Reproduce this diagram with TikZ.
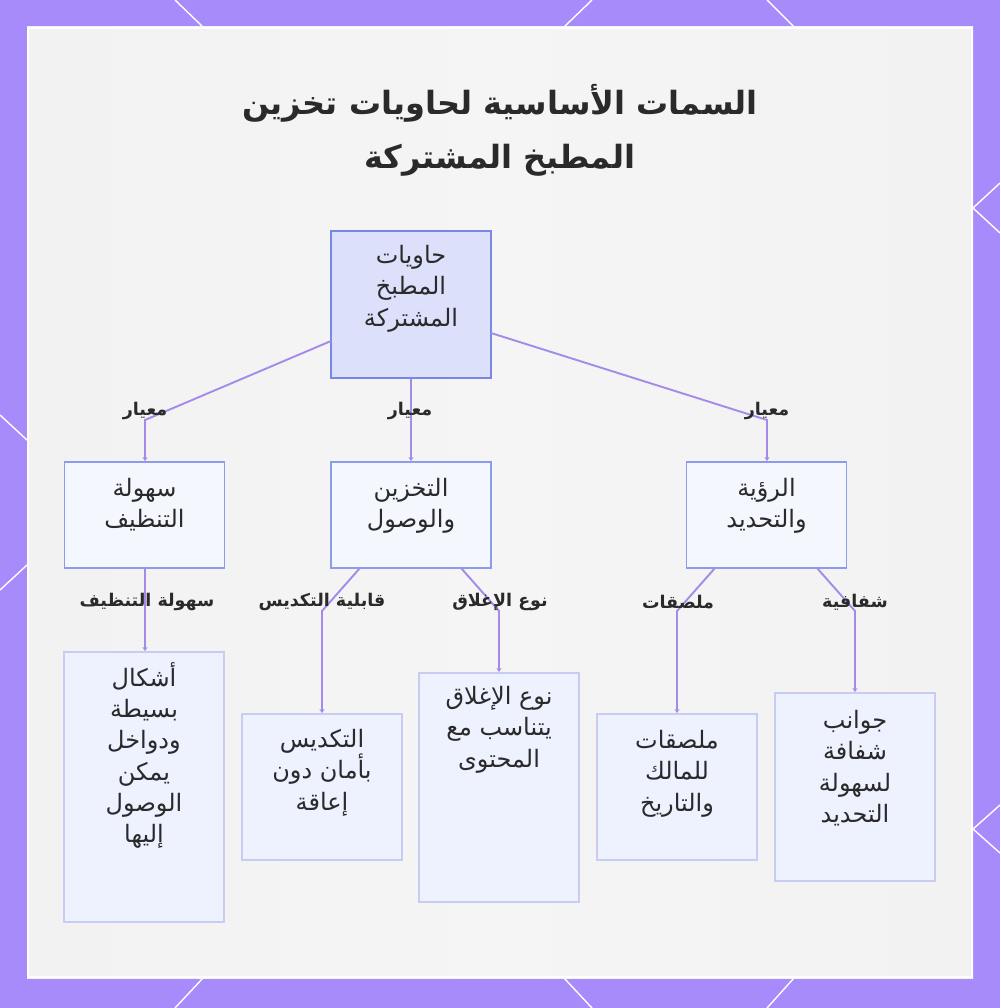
\documentclass[tikz,border=0pt]{standalone}
\usepackage{fontspec}
\TeXXeTstate=1
\newfontfamily\arabicfont[Script=Arabic]{DejaVu Sans}
\newcommand{\AR}[1]{{\arabicfont\beginR #1\endR}}
\usetikzlibrary{arrows.meta}
\definecolor{frame}{HTML}{A78BFA}
\definecolor{panel}{HTML}{F2F2F2}
\definecolor{edgec}{HTML}{A48AEB}
\definecolor{rootfill}{HTML}{DDE0FB}
\definecolor{rootdraw}{HTML}{7888E4}
\definecolor{midfill}{HTML}{F5F7FF}
\definecolor{middraw}{HTML}{8B9DEA}
\definecolor{leaffill}{HTML}{EEF2FF}
\definecolor{leafdraw}{HTML}{C6CCF4}
\definecolor{txt}{HTML}{2A2A2A}
\tikzset{
  rootbox/.style={draw=rootdraw, fill=rootfill, line width=1.8pt, minimum width=160pt, minimum height=147pt, inner sep=0pt},
  midbox/.style={draw=middraw, fill=midfill, line width=1.8pt, minimum width=160pt, minimum height=106pt, inner sep=0pt},
  leafbox/.style={draw=leafdraw, fill=leaffill, line width=1.8pt, minimum width=160pt, inner sep=0pt},
  boxtext/.style={anchor=north, align=center, inner sep=0pt, text=txt, font=\fontsize{24}{31.3}\selectfont},
  elabel/.style={text=txt, inner sep=1pt, font=\fontsize{17.5}{20}\selectfont\bfseries},
  edge/.style={draw=edgec, line width=1.9pt, -{Stealth[length=4pt,width=5pt]}},
  deco/.style={draw=white, line width=1.4pt}
}
\begin{document}
\begin{tikzpicture}[x=1pt,y=-1pt]
% frame and panel
\fill[frame] (0,0) rectangle (1000,1008);
\useasboundingbox (0,0) rectangle (1000,1008);
\draw[deco] (175,0) -- (203,27);
\draw[deco] (592,0) -- (564,27);
\draw[deco] (767,0) -- (794,27);
\draw[deco] (203,978) -- (175,1008);
\draw[deco] (564,978) -- (592,1008);
\draw[deco] (794,978) -- (767,1008);
\draw[deco] (0,415) -- (27,440);
\draw[deco] (27,565) -- (0,590);
\draw[deco] (1000,183) -- (973,208) -- (1000,233);
\draw[deco] (1000,805) -- (973,829) -- (1000,853);
\shade[left color=panel, right color=panel, middle color=white!96!black] (27,27) rectangle (973,978);
\draw[white, line width=2.5pt] (28,28) rectangle (972,977);

% title
\node[align=center, text=txt, font=\fontsize{32}{54}\selectfont\bfseries] (title) at (500,130)
  {\AR{السمات الأساسية لحاويات تخزين}\\ \AR{المطبخ المشتركة}};

% boxes
\node[rootbox] (root) at (411,304.5) {};
\node[boxtext] (roott) at (411,245) {\AR{حاويات}\\ \AR{المطبخ}\\ \AR{المشتركة}};

\node[midbox] (b1) at (144.5,515) {};
\node[midbox] (b2) at (411,515) {};
\node[midbox] (b3) at (766.5,515) {};
\node[boxtext] (b1t) at (144.5,478) {\AR{سهولة}\\ \AR{التنظيف}};
\node[boxtext] (b2t) at (411,478) {\AR{التخزين}\\ \AR{والوصول}};
\node[boxtext] (b3t) at (766.5,478) {\AR{الرؤية}\\ \AR{والتحديد}};

\node[leafbox, minimum height=270pt] (c1) at (144,787) {};
\node[leafbox, minimum height=146pt] (c2) at (322,787) {};
\node[leafbox, minimum height=229pt] (c3) at (499,787.5) {};
\node[leafbox, minimum height=146pt] (c4) at (677,787) {};
\node[leafbox, minimum height=188pt] (c5) at (855,787) {};
\node[boxtext] (c1t) at (144,662) {\AR{أشكال}\\ \AR{بسيطة}\\ \AR{ودواخل}\\ \AR{يمكن}\\ \AR{الوصول}\\ \AR{إليها}};
\node[boxtext] (c2t) at (322,729) {\AR{التكديس}\\ \AR{بأمان دون}\\ \AR{إعاقة}};
\node[boxtext] (c3t) at (499,686) {\AR{نوع الإغلاق}\\ \AR{يتناسب مع}\\ \AR{المحتوى}};
\node[boxtext] (c4t) at (677,730) {\AR{ملصقات}\\ \AR{للمالك}\\ \AR{والتاريخ}};
\node[boxtext] (c5t) at (855,710) {\AR{جوانب}\\ \AR{شفافة}\\ \AR{لسهولة}\\ \AR{التحديد}};

% connector coordinates
\coordinate (rl) at (331,341);
\coordinate (rr) at (491,333);
\coordinate (k1) at (145,420);
\coordinate (k3) at (767,420);
\coordinate (s2l) at (360,568);
\coordinate (s2r) at (461,568);
\coordinate (s3l) at (715,568);
\coordinate (s3r) at (817,568);
\coordinate (m2) at (322,611);
\coordinate (m3) at (499,611);
\coordinate (m4) at (677,611);
\coordinate (m5) at (855,611);

% connectors
\draw[edge] (rl) -- (k1) -- (b1.north -| k1);
\draw[edge] (root.south) -- (b2.north);
\draw[edge] (rr) -- (k3) -- (b3.north -| k3);
\draw[edge] (b1.south -| k1) -- (c1.north -| k1);
\draw[edge] (s2l) -- (m2) -- (c2.north);
\draw[edge] (s2r) -- (m3) -- (c3.north);
\draw[edge] (s3l) -- (m4) -- (c4.north);
\draw[edge] (s3r) -- (m5) -- (c5.north);

% edge labels
\node[elabel] (l1) at (145,411) {\AR{معيار}};
\node[elabel] (l2) at (410,411) {\AR{معيار}};
\node[elabel] (l3) at (767,411) {\AR{معيار}};
\node[elabel] (l4) at (147,602) {\AR{سهولة التنظيف}};
\node[elabel] (l5) at (322,602) {\AR{قابلية التكديس}};
\node[elabel] (l6) at (500,602) {\AR{نوع الإغلاق}};
\node[elabel] (l7) at (678,602) {\AR{ملصقات}};
\node[elabel] (l8) at (855,602) {\AR{شفافية}};
\end{tikzpicture}
\end{document}
